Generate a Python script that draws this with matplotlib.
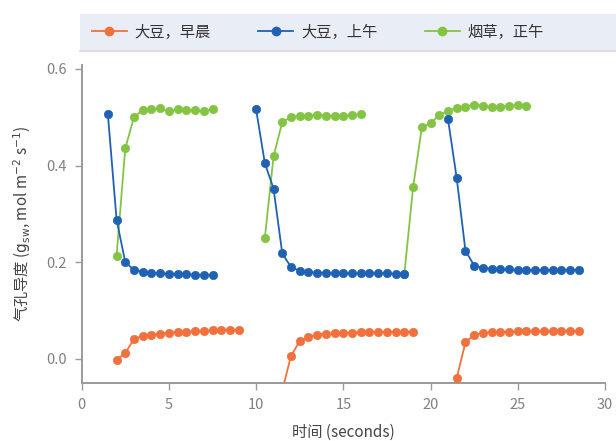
import matplotlib
matplotlib.use("Agg")
import matplotlib.pyplot as plt
from matplotlib.patches import Rectangle
from matplotlib.lines import Line2D

plt.rcParams['font.family'] = ['Noto Sans CJK SC', 'DejaVu Sans']

# 大豆，早晨 (three light-on runs)
t_orange = [
    [2.0, 2.5, 3.0, 3.5, 4.0, 4.5, 5.0, 5.5, 6.0, 6.5, 7.0, 7.5, 8.0, 8.5, 9.0],
    [11.5, 12.0, 12.5, 13.0, 13.5, 14.0, 14.5, 15.0, 15.5, 16.0, 16.5, 17.0, 17.5, 18.0, 18.5, 19.0],
    [21.5, 22.0, 22.5, 23.0, 23.5, 24.0, 24.5, 25.0, 25.5, 26.0, 26.5, 27.0, 27.5, 28.0, 28.5],
]
v_orange = [
    [-0.002, 0.012, 0.041, 0.047, 0.050, 0.052, 0.054, 0.055, 0.056, 0.057, 0.058, 0.059, 0.060, 0.060, 0.060],
    [-0.065, 0.006, 0.037, 0.046, 0.050, 0.052, 0.053, 0.054, 0.054, 0.055, 0.055, 0.055, 0.056, 0.056, 0.056, 0.056],
    [-0.040, 0.034, 0.050, 0.053, 0.055, 0.056, 0.056, 0.057, 0.057, 0.058, 0.058, 0.058, 0.058, 0.058, 0.058],
]

# 大豆，上午
t_blue = [
    [1.5, 2.0, 2.5, 3.0, 3.5, 4.0, 4.5, 5.0, 5.5, 6.0, 6.5, 7.0, 7.5],
    [10.0, 10.5, 11.0, 11.5, 12.0, 12.5, 13.0, 13.5, 14.0, 14.5, 15.0, 15.5, 16.0, 16.5, 17.0, 17.5, 18.0, 18.5],
    [21.0, 21.5, 22.0, 22.5, 23.0, 23.5, 24.0, 24.5, 25.0, 25.5, 26.0, 26.5, 27.0, 27.5, 28.0, 28.5],
]
v_blue = [
    [0.507, 0.288, 0.200, 0.184, 0.180, 0.178, 0.177, 0.176, 0.176, 0.175, 0.174, 0.173, 0.173],
    [0.516, 0.405, 0.352, 0.218, 0.190, 0.182, 0.180, 0.178, 0.178, 0.177, 0.177, 0.177, 0.177, 0.177, 0.177, 0.177, 0.176, 0.176],
    [0.496, 0.374, 0.224, 0.193, 0.188, 0.186, 0.185, 0.185, 0.184, 0.184, 0.184, 0.184, 0.184, 0.184, 0.184, 0.184],
]

# 烟草，正午
t_green = [
    [2.0, 2.5, 3.0, 3.5, 4.0, 4.5, 5.0, 5.5, 6.0, 6.5, 7.0, 7.5],
    [10.5, 11.0, 11.5, 12.0, 12.5, 13.0, 13.5, 14.0, 14.5, 15.0, 15.5, 16.0],
    [18.5, 19.0, 19.5, 20.0, 20.5, 21.0, 21.5, 22.0, 22.5, 23.0, 23.5, 24.0, 24.5, 25.0, 25.5],
]
v_green = [
    [0.213, 0.436, 0.500, 0.515, 0.516, 0.518, 0.512, 0.516, 0.514, 0.514, 0.513, 0.516],
    [0.250, 0.419, 0.490, 0.500, 0.503, 0.502, 0.505, 0.503, 0.503, 0.503, 0.504, 0.506],
    [0.176, 0.355, 0.479, 0.487, 0.505, 0.513, 0.519, 0.522, 0.526, 0.524, 0.521, 0.522, 0.524, 0.525, 0.524],
]

labels = ['大豆，早晨', '大豆，上午', '烟草，正午']
colors = ['#f2703c', '#1f62b4', '#84c443']

fig = plt.figure(figsize=(6.16, 4.41), dpi=100)
ax = fig.add_axes([0.1326, 0.1315, 0.8495, 0.7211])

# green under blue, as in the reference
series = [(t_orange, v_orange, colors[0], 3), (t_green, v_green, colors[2], 2), (t_blue, v_blue, colors[1], 4)]
for ts, vs, c, z in series:
    for t, v in zip(ts, vs):
        ax.plot(t, v, '-o', color=c, lw=1.3, ms=6, mec=c, mew=0.5, zorder=z)

ax.set_xlim(0, 30)
ax.set_ylim(-0.05, 0.608)
ax.set_xticks([0, 5, 10, 15, 20, 25, 30])
ax.set_yticks([0.0, 0.2, 0.4, 0.6])
ax.set_yticklabels(['0.0', '0.2', '0.4', '0.6'])

for s in ['top', 'right']:
    ax.spines[s].set_visible(False)
for s in ['left', 'bottom']:
    ax.spines[s].set_color('#9a9a9a')
    ax.spines[s].set_linewidth(1.4)
ax.tick_params(colors='#9a9a9a', labelcolor='#808080', labelsize=10.5, length=5, width=1)
ax.tick_params(axis='x', pad=6)
ax.tick_params(axis='y', pad=6)

ax.set_xlabel('时间 (seconds)', fontsize=11, color='#444444', labelpad=8)
ax.set_ylabel(r'气孔导度 ($\mathrm{g}_{\mathrm{sw}}$, mol m$^{-2}$ s$^{-1}$)', fontsize=11,
              color='#444444', labelpad=9)

# legend strip
fig.patches.append(Rectangle((80 / 616, 1 - 50 / 441), 560 / 616, 36 / 441,
                             transform=fig.transFigure, facecolor='#e9edf5',
                             edgecolor='none', zorder=0))
fig.add_artist(Line2D([80 / 616, 1.0], [1 - 51 / 441, 1 - 51 / 441],
                      transform=fig.transFigure, color='#d5d8de', lw=1.2))
handles = [Line2D([], [], color=c, marker='o', lw=1.3, ms=6) for c in colors]
fig.legend(handles, labels, loc='center left', bbox_to_anchor=(78 / 616, 1 - 32 / 441),
           ncol=3, frameon=False, handlelength=2.3, handletextpad=0.5,
           columnspacing=3.1, fontsize=11, labelcolor='#333333')

fig.savefig('out.png', dpi=100)
